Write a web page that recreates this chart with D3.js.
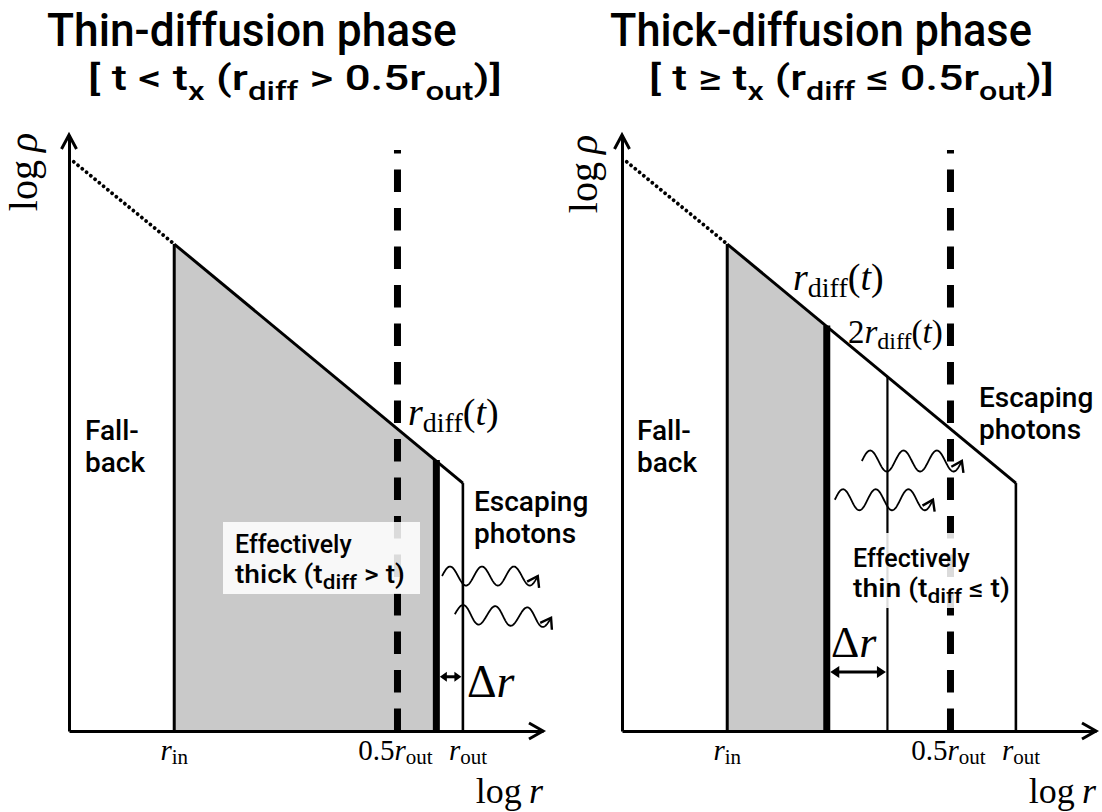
<!DOCTYPE html>
<html><head><meta charset="utf-8">
<script src="https://cdn.jsdelivr.net/npm/d3@7"></script>
<style>
html,body{margin:0;padding:0;background:#fff;}
svg{display:block;}
</style></head><body>
<svg id="chart" width="1102" height="812"></svg>
<script>
// ---------------- data (schematic units: log r on x, log rho on y) ----------------
const panelNames   = ["thin", "thick"];
const titles       = ["Thin-diffusion phase", "Thick-diffusion phase"];
const subtitleRel  = [["<", ">"], ["≥", "≤"]];          // relation symbols in the bracket line
const profileR     = [1, 22.2, 83.1];                    // dotted start, r_in, r_out
const profileRho   = [95.5, 81.7, 41.6];
const rIn          = 22.2;
const rOut         = 83.1;
const halfROut     = 69.3;
const rDiff        = [77.5, 43.2];                       // diffusion radius in each phase
const twoRDiff     = [null, 56.0];
const dashedTop    = 97.5;
const tickLabels   = [["r", "in"], ["0.5", "r", "out"], ["r", "out"]];
const photonX0     = [[78.7, 81.4], [50.6, 44.9]];
const photonX1     = [[98.9, 101.7], [71.7, 65.6]];
const photonY0     = [[26.0, 19.6], [45.3, 38.8]];
const photonY1     = [[26.0, 19.0], [45.3, 38.8]];
const deltaArrowY  = [9.1, 9.9];

// ---------------- scales ----------------
const xScales = [
  d3.scaleLinear().domain([0, 100]).range([69, 543]),
  d3.scaleLinear().domain([0, 100]).range([622, 1096])
];
const y = d3.scaleLinear().domain([0, 100]).range([731, 135]);
const rho = d3.scaleLinear().domain(profileR).range(profileRho);

const SANS = "Roboto, 'Noto Sans', 'Liberation Sans', sans-serif";
const SERIF = "'Liberation Serif', 'DejaVu Serif', serif";

const svg = d3.select("#chart");

// helper: mixed text with subscripts
function richText(g, x, yy, parts, opt) {
  const t = g.append("text").attr("x", x).attr("y", yy)
    .attr("font-family", opt.family).attr("font-size", opt.size)
    .attr("font-weight", opt.weight || 400)
    .attr("text-anchor", opt.anchor || "start")
    .attr("fill", "#000");
  let down = 0;
  parts.forEach(p => {
    const ts = t.append("tspan").text(p.t);
    if (p.it) ts.attr("font-style", "italic");
    if (p.sub) {
      ts.attr("font-size", opt.subSize).attr("dy", opt.subShift - down);
      down = opt.subShift;
    } else {
      if (down) ts.attr("dy", -down);
      down = 0;
    }
  });
  return t;
}
function fitWidth(t, x0, target) {
  const w = t.node().getBBox().width;
  const s = target / w;
  t.attr("transform", `translate(${x0},0) scale(${s},1) translate(${-x0},0)`);
}

function wavePath(x0, y0, x1, y1, amp, n) {
  const L = Math.hypot(x1 - x0, y1 - y0), ux = (x1 - x0) / L, uy = (y1 - y0) / L;
  const nx = uy, ny = -ux;
  const pts = d3.range(0, 201).map(k => {
    const t = k / 200, off = amp * Math.sin(2 * Math.PI * n * t);
    return [x0 + ux * t * L + nx * off, y0 + uy * t * L + ny * off];
  });
  const tx = ux * L + nx * amp * 2 * Math.PI * n, ty = uy * L + ny * amp * 2 * Math.PI * n;
  const ang = Math.atan2(ty, tx);
  return {pts, ang, tip: pts[pts.length - 1]};
}

// layout of annotations (pixels)
const layout = [
  { title: [47, 46, 410], sub: [88, 90, 414], ylab: [37, 172],
    fall: [85, 440, 472], esc: [474, 511, 543],
    eff: [235, 553, 583, 170], effBox: [223, 522, 197, 72], effWord: "thick", effRel: ">",
    rd: [408, 425], rd2: null, dr: [467, 697, 46] },
  { title: [610, 46, 422], sub: [649, 90, 405], ylab: [597, 174],
    fall: [637, 440, 472], esc: [979, 407, 439],
    eff: [853, 567, 597, 157], effBox: [841, 533, 173, 75], effWord: "thin", effRel: "≤",
    rd: [793, 290], rd2: [848, 343], dr: [831, 657, 44] }
];

panelNames.forEach((name, i) => {
  const x = xScales[i];
  const L = layout[i];
  const g = svg.append("g").attr("class", "panel-" + name);

  // shaded effectively-thick region
  const area = d3.area().x(d => x(d)).y0(y(0)).y1(d => y(rho(d)));
  g.append("path").datum([rIn, rDiff[i]]).attr("d", area).attr("fill", "#c9c9c9");

  // dashed 0.5 r_out line (drawn bottom-up)
  g.append("line")
    .attr("x1", x(halfROut)).attr("x2", x(halfROut))
    .attr("y1", y(0)).attr("y2", y(dashedTop))
    .attr("stroke", "#000").attr("stroke-width", 7)
    .attr("stroke-dasharray", "22.5,16");

  // density profile
  const line = d3.line().x(d => x(d)).y(d => y(rho(d)));
  g.append("path").datum([profileR[0], rIn]).attr("d", line)
    .attr("fill", "none").attr("stroke", "#000").attr("stroke-width", 3.8)
    .attr("stroke-linecap", "round").attr("stroke-dasharray", "0.1,5.4");
  g.append("path").datum([rIn, rOut]).attr("d", line)
    .attr("fill", "none").attr("stroke", "#000").attr("stroke-width", 3)
    .attr("stroke-linejoin", "miter");

  // vertical boundaries
  const verts = [
    {r: rIn, w: 3}, {r: rOut, w: 2.6}, {r: rDiff[i], w: 7}
  ];
  if (twoRDiff[i] !== null) verts.push({r: twoRDiff[i], w: 2.2});
  g.selectAll("line.v").data(verts).join("line").attr("class", "v")
    .attr("x1", d => x(d.r)).attr("x2", d => x(d.r))
    .attr("y1", y(0)).attr("y2", d => y(rho(d.r)) - (d.w > 5 ? 1 : 0))
    .attr("stroke", "#000").attr("stroke-width", d => d.w);

  // axes
  const xAxis = d3.axisBottom(x).tickValues([]).tickSizeOuter(0);
  const ga = g.append("g").attr("transform", `translate(0,${y(0)})`).call(xAxis);
  ga.select(".domain").attr("stroke", "#000").attr("stroke-width", 3);
  const yAxis = d3.axisLeft(y).tickValues([]).tickSizeOuter(0);
  const gy = g.append("g").attr("transform", `translate(${x(0)},0)`).call(yAxis);
  gy.select(".domain").attr("stroke", "#000").attr("stroke-width", 3);
  // arrowheads
  const xt = x(100), yt = y(100);
  g.append("path").attr("d", `M${xt - 14},${y(0) - 8}L${xt},${y(0)}L${xt - 14},${y(0) + 8}`)
    .attr("fill", "none").attr("stroke", "#000").attr("stroke-width", 3).attr("stroke-linejoin", "miter");
  g.append("path").attr("d", `M${x(0) - 7.5},${yt + 14}L${x(0)},${yt}L${x(0) + 7.5},${yt + 14}`)
    .attr("fill", "none").attr("stroke", "#000").attr("stroke-width", 3).attr("stroke-linejoin", "miter");

  // tick labels
  const ts = {family: SERIF, size: 29, subSize: 21, subShift: 4};
  richText(g, x(rIn), 760, [{t: "r", it: true}, {t: "in", sub: true}], {...ts, anchor: "middle"});
  richText(g, x(halfROut) - 2, 760, [{t: "0.5"}, {t: "r", it: true}, {t: "out", sub: true}], {...ts, anchor: "middle"});
  richText(g, x(rOut) - 14, 760, [{t: "r", it: true}, {t: "out", sub: true}], {...ts, anchor: "start"});
  // axis titles
  richText(g, x(100), 803, [{t: "log\u2009"}, {t: "r", it: true}], {family: SERIF, size: 36, anchor: "end"});
  richText(g, 0, 0, [{t: "log\u2009"}, {t: "ρ", it: true}], {family: SERIF, size: 40, anchor: "middle"})
    .attr("transform", `translate(${L.ylab[0]},${L.ylab[1]}) rotate(-90)`);

  // Titles
  const tt = g.append("text").attr("x", L.title[0]).attr("y", L.title[1])
    .attr("font-family", SANS).attr("font-size", 46).attr("font-weight", 500).text(titles[i]);
  fitWidth(tt, L.title[0], L.title[2]);
  const st = richText(g, L.sub[0], L.sub[1], [
    {t: "[ t " + subtitleRel[i][0] + " t"}, {t: "x", sub: true}, {t: " (r"}, {t: "diff", sub: true},
    {t: " " + subtitleRel[i][1] + " 0.5r"}, {t: "out", sub: true}, {t: ")]"}
  ], {family: SANS, size: 36, subSize: 26, subShift: 10, weight: 500});
  fitWidth(st, L.sub[0], L.sub[2]);

  // Fall-back
  g.append("text").attr("x", L.fall[0]).attr("y", L.fall[1]).attr("font-family", SANS)
    .attr("font-size", 28).attr("font-weight", 500).text("Fall-");
  g.append("text").attr("x", L.fall[0]).attr("y", L.fall[2]).attr("font-family", SANS)
    .attr("font-size", 28).attr("font-weight", 500).text("back");
  // Escaping photons
  g.append("text").attr("x", L.esc[0]).attr("y", L.esc[1]).attr("font-family", SANS)
    .attr("font-size", 28).attr("font-weight", 500).text("Escaping");
  g.append("text").attr("x", L.esc[0]).attr("y", L.esc[2]).attr("font-family", SANS)
    .attr("font-size", 28).attr("font-weight", 500).text("photons");

  // effectively box + text
  const b = L.effBox;
  g.append("rect").attr("x", b[0]).attr("y", b[1]).attr("width", b[2]).attr("height", b[3])
    .attr("fill", "#fff").attr("fill-opacity", 0.86);
  g.append("text").attr("x", L.eff[0]).attr("y", L.eff[1]).attr("font-family", SANS)
    .attr("font-size", 25).attr("font-weight", 500).text("Effectively");
  const e2 = richText(g, L.eff[0], L.eff[2], [
    {t: L.effWord + " (t"}, {t: "diff", sub: true}, {t: " " + L.effRel + " t)"}
  ], {family: SANS, size: 25, subSize: 20, subShift: 6, weight: 500});
  fitWidth(e2, L.eff[0], L.eff[3]);

  // r_diff labels
  const ml = {family: SERIF, size: 38, subSize: 28, subShift: 7};
  richText(g, L.rd[0], L.rd[1], [{t: "r", it: true}, {t: "diff", sub: true}, {t: "("}, {t: "t", it: true}, {t: ")"}], ml);
  if (L.rd2) {
    richText(g, L.rd2[0], L.rd2[1], [{t: "2"}, {t: "r", it: true}, {t: "diff", sub: true}, {t: "("}, {t: "t", it: true}, {t: ")"}],
      {family: SERIF, size: 33, subSize: 24, subShift: 6});
  }

  // Delta r arrow
  const ax0 = x(rDiff[i]) + 3.5, ax1 = x(twoRDiff[i] !== null ? twoRDiff[i] : rOut) - 1.5, ay = y(deltaArrowY[i]);
  const ah = i === 0 ? 7 : 9, aw = i === 0 ? 5 : 6;
  g.append("line").attr("x1", ax0 + ah - 1).attr("x2", ax1 - ah + 1).attr("y1", ay).attr("y2", ay)
    .attr("stroke", "#000").attr("stroke-width", 3);
  g.append("path").attr("d", `M${ax0},${ay}L${ax0 + ah},${ay - aw}L${ax0 + ah},${ay + aw}Z M${ax1},${ay}L${ax1 - ah},${ay - aw}L${ax1 - ah},${ay + aw}Z`)
    .attr("fill", "#000");
  richText(g, L.dr[0], L.dr[1], [{t: "Δ"}, {t: "r", it: true}], {family: SERIF, size: L.dr[2]});

  // photons
  photonX0[i].forEach((_, k) => {
    const w = wavePath(x(photonX0[i][k]), y(photonY0[i][k]), x(photonX1[i][k]), y(photonY1[i][k]), i === 0 ? 9.5 : 10.5, 3);
    g.append("path").attr("d", d3.line()(w.pts)).attr("fill", "none")
      .attr("stroke", "#000").attr("stroke-width", 1.8);
    const a = w.ang + Math.PI, len = 12, sp = 0.6;
    const p1 = [w.tip[0] + len * Math.cos(a - sp), w.tip[1] + len * Math.sin(a - sp)];
    const p2 = [w.tip[0] + len * Math.cos(a + sp), w.tip[1] + len * Math.sin(a + sp)];
    g.append("path").attr("d", `M${p1}L${w.tip}L${p2}`).attr("fill", "none")
      .attr("stroke", "#000").attr("stroke-width", 2.4).attr("stroke-linejoin", "miter");
  });
});
</script>
</body></html>
